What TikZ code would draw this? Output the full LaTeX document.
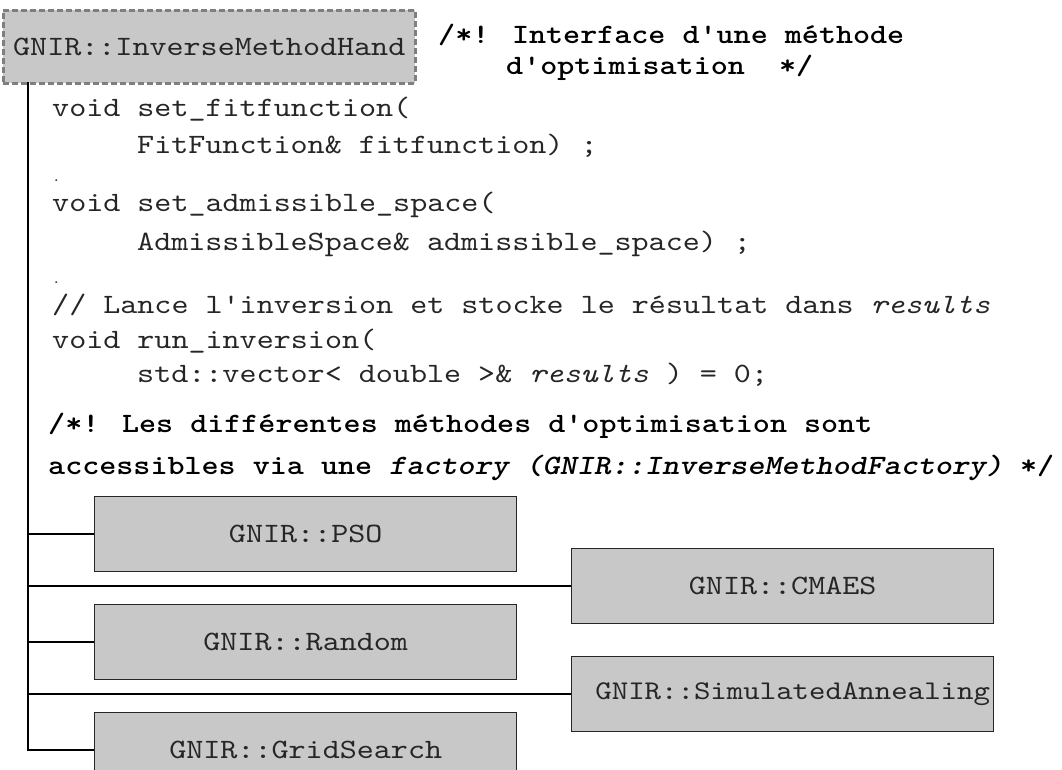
\documentclass[tikz,border=0pt]{standalone}
\usepackage{fontspec}
\newfontfamily\cour{lmmono10-regular.otf}[
  BoldFont=lmmonolt10-bold.otf,
  ItalicFont=lmmono10-italic.otf,
  BoldItalicFont=lmmonolt10-boldoblique.otf,
  FakeStretch=1.16]
\definecolor{boxfill}{HTML}{C8C8C8}
\definecolor{codecol}{HTML}{262626}
\definecolor{dashcol}{HTML}{7F7F7F}
\begin{document}
\begin{tikzpicture}[x=1pt,y=-1pt,
  code/.style={anchor=base west,inner sep=0pt,font=\fontsize{28}{30}\selectfont\cour,text=codecol},
  bcode/.style={anchor=base west,inner sep=0pt,font=\fontsize{28}{30}\selectfont\cour\bfseries,text=black},
  cls/.style={draw=black!85,line width=1.4pt,fill=boxfill,anchor=north west,inner sep=0pt,
    minimum height=75pt,font=\fontsize{28}{30}\selectfont\cour,text=codecol},
  link/.style={draw=black,line width=1.6pt}]
\useasboundingbox (0,0) rectangle (1062,769);
\clip (0,0) rectangle (1062,769);
% main class
\node[draw=dashcol,dashed,dash pattern=on 6pt off 3pt,line width=2.5pt,fill=boxfill,anchor=north west,
  minimum width=412pt,minimum height=73pt,inner sep=0pt,font=\fontsize{28}{30}\selectfont\cour,text=codecol]
  (main) at (2,9) {GNIR::InverseMethodHand};
\node[bcode] (h1) at (438,43) {/*! Interface d'une méthode};
\node[bcode] (h2) at (506,74) {d'optimisation~~*/};
% code lines
\node[code] (l1) at (52,116) {void set\_fitfunction(};
\node[code] (l2) at (137,153) {FitFunction\& fitfunction) ;};
\node[code,font=\fontsize{14}{16}\selectfont\cour] (d1) at (52,181) {.};
\node[code] (l3) at (52,211) {void set\_admissible\_space(};
\node[code] (l4) at (137,250) {AdmissibleSpace\& admissible\_space) ;};
\node[code,font=\fontsize{14}{16}\selectfont\cour] (d2) at (52,283) {.};
\node[code] (l5) at (52,313) {// Lance l'inversion et stocke le résultat dans \textit{results}};
\node[code] (l6) at (52,348) {void run\_inversion(};
\node[code] (l7) at (137,382) {std::vector< double >\& \textit{results} ) = 0;};
\node[bcode] (c1) at (48,432) {/*! Les différentes méthodes d'optimisation sont};
\node[bcode] (c2) at (48,474) {accessibles via une \textit{factory (GNIR::InverseMethodFactory)} */};
% derived classes
\node[cls,minimum width=422pt] (pso) at (94,496) {GNIR::PSO};
\node[cls,minimum width=422pt] (rnd) at (94,604) {GNIR::Random};
\node[cls,minimum width=422pt] (grid) at (94,712) {GNIR::GridSearch};
\node[cls,minimum width=422pt] (cmaes) at (571,548) {GNIR::CMAES};
\node[cls,minimum width=422pt,font=\fontsize{27}{29}\selectfont\cour] (sa) at (571,656)
  {\hspace*{20pt}GNIR::SimulatedAnnealing};
% tree
\coordinate (top) at (28,82);
\coordinate (bot) at (28,750);
\draw[link,line width=2pt] (top) -- (bot) -- (grid.west |- bot);
\draw[link] (pso.west) -- (top |- pso.west);
\draw[link] (rnd.west) -- (top |- rnd.west);
\draw[link] (cmaes.west) -- (top |- cmaes.west);
\draw[link] (sa.west) -- (top |- sa.west);
\end{tikzpicture}
\end{document}
